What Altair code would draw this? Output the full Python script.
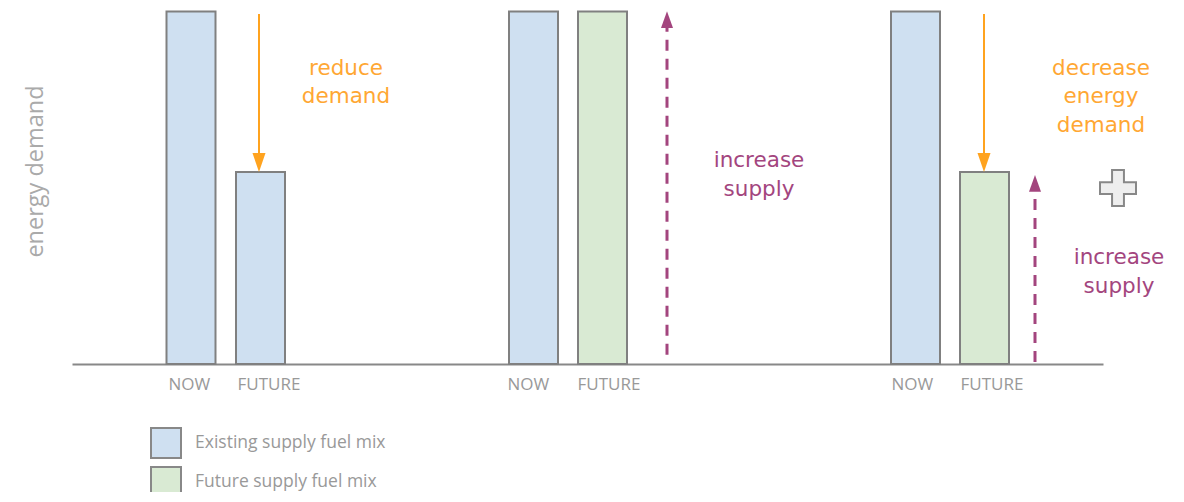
import altair as alt
import pandas as pd

# ---- data ----
series_names = ["Existing supply fuel mix", "Future supply fuel mix"]
series_colors = ["#cfe0f1", "#d9ead3"]

bar_pos = [119, 188.5, 461.5, 530.5, 843.5, 912.5]
bar_value = [100, 54.5, 100, 100, 100, 54.5]
bar_series = [series_names[0], series_names[0], series_names[0],
              series_names[1], series_names[0], series_names[1]]

tick_values = [96, 165, 435, 505, 819, 888]
tick_labels = ["NOW", "FUTURE", "NOW", "FUTURE", "NOW", "FUTURE"]

# orange arrows (reduce demand)
down_x = [187, 912]
down_top = [99.3, 99.3]
down_tip = [54.5, 54.5]

# purple dashed arrows (increase supply)
up_x = [595, 963]
up_bottom = [2.6, 0.6]
up_tip = [100.1, 53.6]

orange_text_lines = ["reduce\ndemand", "decrease\nenergy\ndemand"]
orange_x = [274, 1029]
orange_y = [83.7, 83.7]

purple_text_lines = ["increase\nsupply", "increase\nsupply"]
purple_x = [687, 1047]
purple_y = [57.6, 30.1]

plus_x = [1046]
plus_y = [49.9]

FONT = "Open Sans"
ANNOT_FONT = "DejaVu Sans"
ORANGE = "#ffa31f"
ORANGE_TXT = "#ffa733"
PURPLE = "#a3457e"

bars_df = pd.DataFrame({"pos": bar_pos, "value": bar_value, "series": bar_series})
down_df = pd.DataFrame({"x": down_x, "top": down_top, "tip": down_tip,
                        "stop": [t + 3 for t in down_tip]})
up_df = pd.DataFrame({"x": up_x, "bottom": up_bottom, "tip": up_tip,
                      "stop": [t - 4 for t in up_tip]})
orange_df = pd.DataFrame({"x": orange_x, "y": orange_y, "t": orange_text_lines})
purple_df = pd.DataFrame({"x": purple_x, "y": purple_y, "t": purple_text_lines})
plus_df = pd.DataFrame({"x": plus_x, "y": plus_y})

xscale = alt.Scale(domain=[0, 1031], nice=False, zero=False, padding=0)
yscale = alt.Scale(domain=[0, 101], nice=False, padding=0)

label_map = "{" + ",".join(f"'{v}':'{l}'" for v, l in zip(tick_values, tick_labels)) + "}"

x_axis = alt.Axis(values=tick_values,
                  labelExpr=f"{label_map}[''+datum.value]",
                  labelAlign="left", labelFontSize=17, labelColor="#999999",
                  labelFont=FONT, labelPadding=12, labelOverlap=False,
                  labelBound=False, labelFlush=False,
                  ticks=False, grid=False, domainColor="#888888", domainWidth=2,
                  title=None)
y_axis = alt.Axis(labels=False, ticks=False, domain=False, grid=False,
                  title="energy demand", titleFontSize=23.5, titleColor="#aaaaaa",
                  titleFont=FONT, titleFontWeight="normal",
                  titleX=-37, titleY=163, titleAngle=270,
                  titleAlign="center", titleBaseline="middle")

bars = alt.Chart(bars_df).mark_bar(size=49, stroke="#808080", strokeWidth=2).encode(
    x=alt.X("pos:Q", scale=xscale, axis=x_axis),
    y=alt.Y("value:Q", scale=yscale, axis=y_axis, stack=None),
    color=alt.Color("series:N",
                    scale=alt.Scale(domain=series_names, range=series_colors),
                    legend=alt.Legend(orient="none", legendX=78, legendY=419,
                                      title=None, symbolType="square",
                                      symbolSize=900, symbolStrokeColor="#888888",
                                      symbolStrokeWidth=2, symbolOpacity=1,
                                      labelFontSize=17.5, labelColor="#999999",
                                      labelFont=FONT, rowPadding=1,
                                      labelLimit=400,
                                      labelOffset=13, padding=0)),
)

down_lines = alt.Chart(down_df).mark_rule(color=ORANGE, strokeWidth=2).encode(
    x="x:Q", y="top:Q", y2="stop:Q")
down_heads = alt.Chart(down_df).mark_point(
    shape="M -1 -2.9 L 1 -2.9 L 0 0 Z", size=169, filled=True,
    color=ORANGE, opacity=1).encode(x="x:Q", y="tip:Q")

up_lines = alt.Chart(up_df).mark_rule(color=PURPLE, strokeWidth=3,
                                      strokeDash=[11, 8]).encode(
    x="x:Q", y="bottom:Q", y2="stop:Q")
up_heads = alt.Chart(up_df).mark_point(
    shape="M -1 2.8 L 1 2.8 L 0 0 Z", size=144, filled=True,
    color=PURPLE, opacity=1).encode(x="x:Q", y="tip:Q")

orange_text = alt.Chart(orange_df).mark_text(
    color=ORANGE_TXT, fontSize=21.5, font=ANNOT_FONT, baseline="middle",
    align="center", lineBreak="\n", lineHeight=28.5
).encode(x="x:Q", y="y:Q", text="t:N")

purple_text = alt.Chart(purple_df).mark_text(
    color=PURPLE, fontSize=21.5, font=ANNOT_FONT, baseline="middle",
    align="center", lineBreak="\n", lineHeight=29.5
).encode(x="x:Q", y="y:Q", text="t:N")

plus = alt.Chart(plus_df).mark_point(
    shape="M -0.33 -1 L 0.33 -1 L 0.33 -0.33 L 1 -0.33 L 1 0.33 L 0.33 0.33 "
          "L 0.33 1 L -0.33 1 L -0.33 0.33 L -1 0.33 L -1 -0.33 L -0.33 -0.33 Z",
    size=1296, filled=True, fill="#eeeeee", stroke="#888888", strokeWidth=2,
    opacity=1, fillOpacity=1, strokeOpacity=1).encode(x="x:Q", y="y:Q")

chart = alt.layer(bars, down_lines, down_heads, up_lines, up_heads,
                  orange_text, purple_text, plus).properties(
    width=1031, height=356,
    autosize=alt.AutoSizeParams(type="none"),
    padding={"left": 64, "top": 0, "right": 73, "bottom": 128},
).configure_view(stroke=None)

chart.save("out.html", embed_options={"renderer": "svg", "actions": False})
